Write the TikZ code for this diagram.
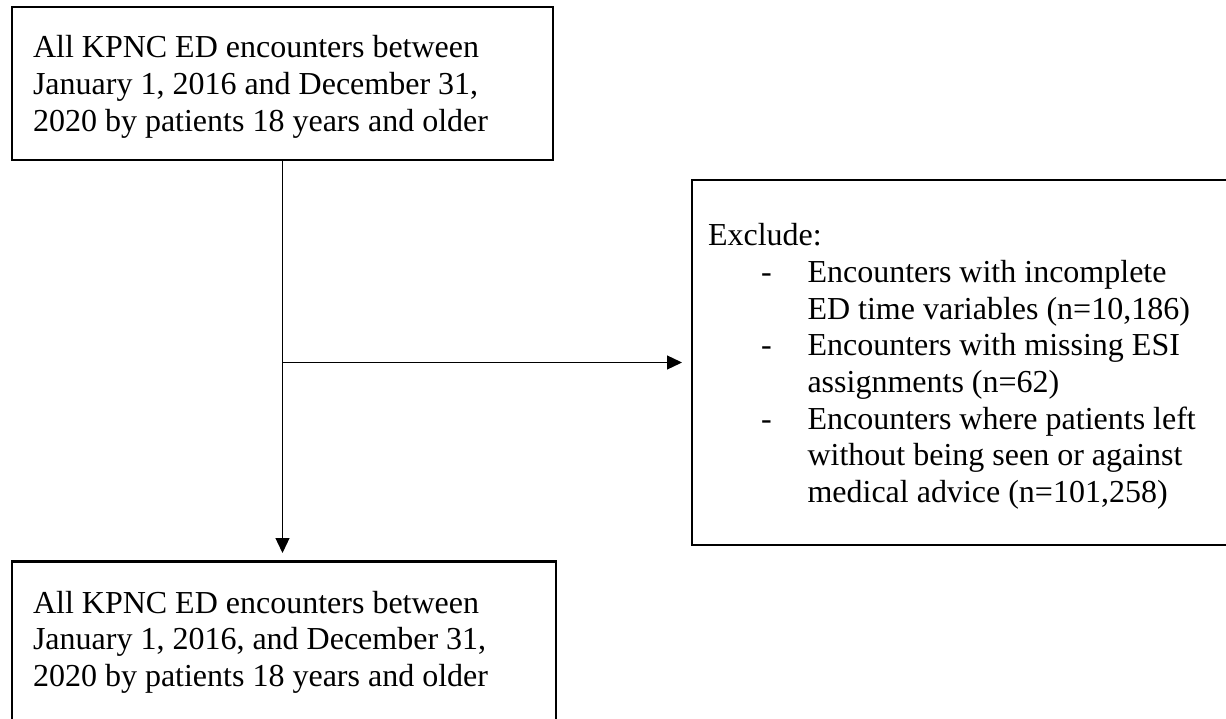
\documentclass[tikz,border=0pt]{standalone}
\usepackage{fontspec}
\setmainfont{Liberation Serif}
\usetikzlibrary{arrows.meta,calc}
\begin{document}
\begin{tikzpicture}[x=1pt,y=-1pt,
  box/.style={draw=black,line width=2.7pt,rectangle,inner sep=0pt,outer sep=0pt,anchor=north west},
  txt/.style={anchor=base west,inner sep=0pt,outer sep=0pt,font=\fontsize{32}{36.65}\selectfont},
  conn/.style={draw=black,line width=1.3pt},
  arr/.style={conn,-{Triangle[length=15pt,width=14pt]}}]
\useasboundingbox (0,0) rectangle (1226,719);
\fill[white] (0,0) rectangle (1226,719);
\clip (0,0) rectangle (1226,719);
% boxes
\node[box,minimum width=541pt,minimum height=153pt] (topbox) at (12,7) {};
\node[box,minimum width=600pt,minimum height=365pt] (exclbox) at (692,180) {};
\node[box,minimum width=544pt,minimum height=200pt] (botbox) at (12,561.5) {};
% texts
\node[txt] (toptext) at (33,58) {\parbox[t]{520pt}{\raggedright
  All KPNC ED encounters between\\
  January 1, 2016 and December 31,\\
  2020 by patients 18 years and older}};
\node[txt] (excltext) at (708,246) {\parbox[t]{520pt}{\raggedright
  Exclude:\\
  \hspace*{53pt}\makebox[46.5pt][l]{-}Encounters with incomplete\\
  \hspace*{99.5pt}ED time variables (n=10,186)\\
  \hspace*{53pt}\makebox[46.5pt][l]{-}Encounters with missing ESI\\
  \hspace*{99.5pt}assignments (n=62)\\
  \hspace*{53pt}\makebox[46.5pt][l]{-}Encounters where patients left\\
  \hspace*{99.5pt}without being seen or against\\
  \hspace*{99.5pt}medical advice (n=101,258)}};
\node[txt] (bottext) at (33,613) {\parbox[t]{520pt}{\raggedright
  All KPNC ED encounters between\\
  January 1, 2016, and December 31,\\
  2020 by patients 18 years and older}};
% connectors
\coordinate (split) at (topbox.south |- exclbox.west);
\draw[arr,shorten >=8.5pt] (topbox.south) -- (topbox.south |- botbox.north);
\draw[arr,shorten >=10pt] (split) -- (exclbox.west);
\end{tikzpicture}
\end{document}
